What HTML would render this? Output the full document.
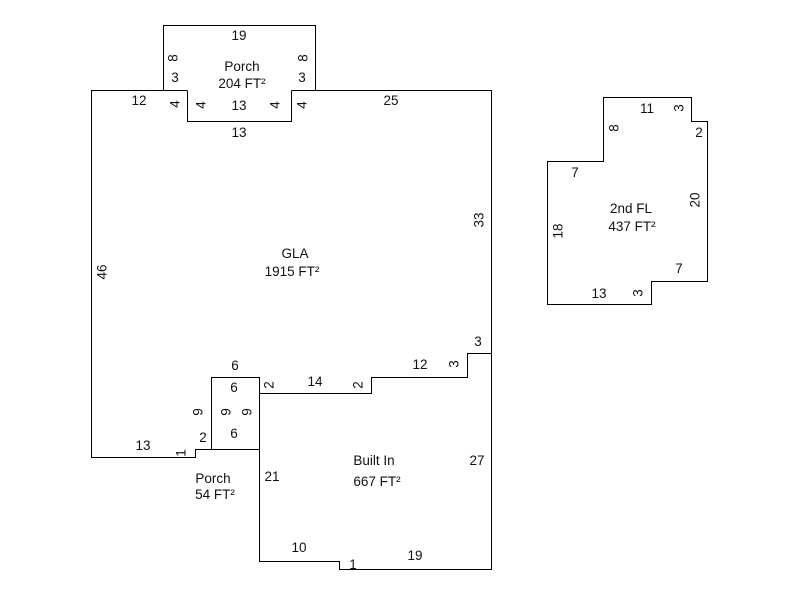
<!DOCTYPE html>
<html>
<head>
<meta charset="utf-8">
<style>
  html, body { margin: 0; padding: 0; background: #fff; }
  svg { display: block; }
  text { font-family: "Liberation Sans", Arial, sans-serif; font-size: 13.5px; fill: #111; text-anchor: middle; }
</style>
</head>
<body>
<svg width="800" height="600" viewBox="0 0 800 600" xmlns="http://www.w3.org/2000/svg">
  <g fill="none" stroke="#000" stroke-width="1">
    <polyline points="163.5,90.5 163.5,25.5 315.5,25.5 315.5,90.5" />
    <polyline points="163.5,90.5 91.5,90.5 91.5,457.5 195.5,457.5 195.5,449.5 211.5,449.5" />
    <polyline points="315.5,90.5 491.5,90.5 491.5,569.5 339.5,569.5 339.5,561.5 259.5,561.5 259.5,393.5" />
    <polyline points="187.5,90.5 187.5,121.5 291.5,121.5 291.5,90.5" />
    <line x1="163.5" y1="90.5" x2="187.5" y2="90.5" />
    <line x1="291.5" y1="90.5" x2="315.5" y2="90.5" />
    <polyline points="259.5,393.5 371.5,393.5 371.5,377.5 467.5,377.5 467.5,353.5 491.5,353.5" />
    <rect x="211.5" y="377.5" width="48" height="72" />
    <polygon points="603.5,97.5 691.5,97.5 691.5,121.5 707.5,121.5 707.5,281.5 651.5,281.5 651.5,304.5 547.5,304.5 547.5,161.5 603.5,161.5" />
  </g>

  <text x="239" y="40">19</text>
  <text transform="translate(173,58) rotate(-90)" y="4.5">8</text>
  <text x="175" y="82">3</text>
  <text x="242" y="71">Porch</text>
  <text x="242" y="88">204 FT²</text>
  <text transform="translate(303,58) rotate(-90)" y="4.5">8</text>
  <text x="302" y="82">3</text>
  <text x="139" y="105">12</text>
  <text transform="translate(175,104) rotate(-90)" y="4.5">4</text>
  <text transform="translate(201,105) rotate(-90)" y="4.5">4</text>
  <text x="239" y="110">13</text>
  <text transform="translate(275,105) rotate(-90)" y="4.5">4</text>
  <text transform="translate(302,105) rotate(-90)" y="4.5">4</text>
  <text x="391" y="105">25</text>
  <text x="239" y="137">13</text>

  <text transform="translate(479,220) rotate(-90)" y="4.5">33</text>
  <text transform="translate(102,272) rotate(-90)" y="4.5">46</text>
  <text x="295" y="258">GLA</text>
  <text x="292" y="276">1915 FT²</text>
  <text x="478" y="346">3</text>
  <text x="420" y="369">12</text>
  <text transform="translate(454,364) rotate(-90)" y="4.5">3</text>
  <text x="235" y="370">6</text>
  <text x="234" y="392">6</text>
  <text transform="translate(269,385) rotate(-90)" y="4.5">2</text>
  <text x="315" y="386">14</text>
  <text transform="translate(358,385) rotate(-90)" y="4.5">2</text>
  <text transform="translate(198,412) rotate(-90)" y="4.5">9</text>
  <text transform="translate(226,412) rotate(-90)" y="4.5">9</text>
  <text transform="translate(247,412) rotate(-90)" y="4.5">9</text>
  <text x="234" y="438">6</text>
  <text x="203" y="442">2</text>
  <text x="143" y="450">13</text>
  <text transform="translate(181,453) rotate(-90)" y="4.5">1</text>

  <text x="213" y="483">Porch</text>
  <text x="215" y="499">54 FT²</text>
  <text x="272" y="481">21</text>
  <text x="374" y="465">Built In</text>
  <text x="377" y="486">667 FT²</text>
  <text x="477" y="465">27</text>
  <text x="299" y="552">10</text>
  <text x="353" y="569">1</text>
  <text x="415" y="560">19</text>

  <text x="647" y="113">11</text>
  <text transform="translate(679,108) rotate(-90)" y="4.5">3</text>
  <text transform="translate(614,128) rotate(-90)" y="4.5">8</text>
  <text x="699" y="137">2</text>
  <text x="575" y="177">7</text>
  <text transform="translate(695,200) rotate(-90)" y="4.5">20</text>
  <text x="631" y="213">2nd FL</text>
  <text x="632" y="231">437 FT²</text>
  <text transform="translate(558,231) rotate(-90)" y="4.5">18</text>
  <text x="679" y="273">7</text>
  <text x="599" y="298">13</text>
  <text transform="translate(638,293) rotate(-90)" y="4.5">3</text>
</svg>
</body>
</html>
